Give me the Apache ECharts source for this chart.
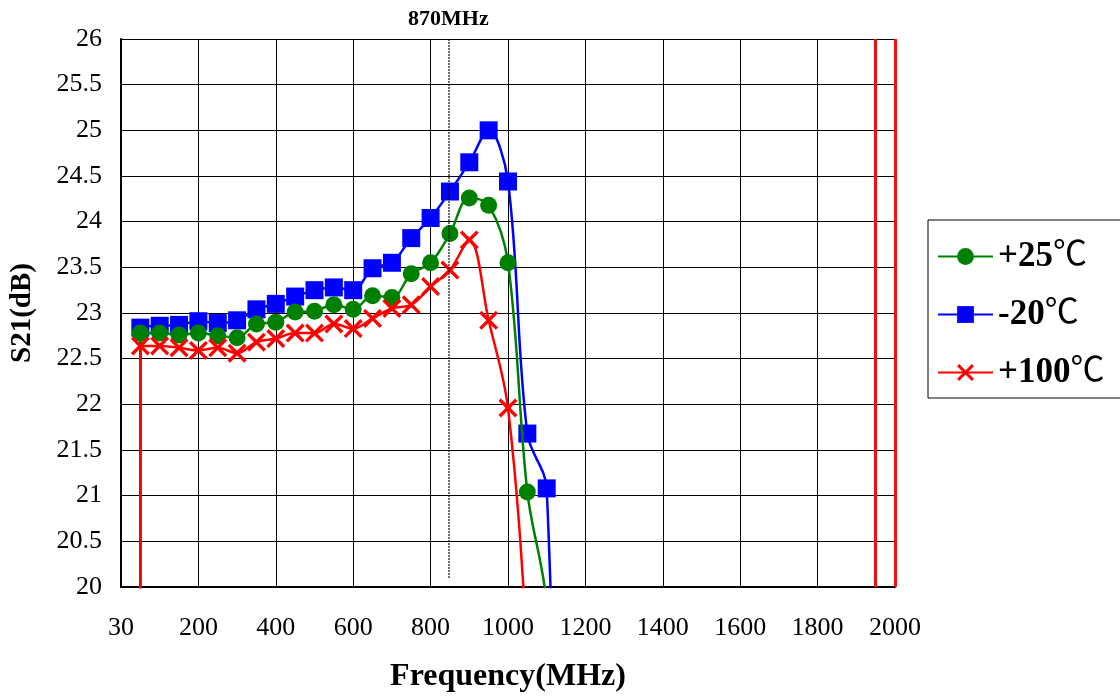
<!DOCTYPE html>
<html>
<head>
<meta charset="utf-8">
<script src="https://cdn.jsdelivr.net/npm/echarts@6/dist/echarts.min.js"></script>
<style>
  html, body { margin: 0; padding: 0; background: #fff; }
  #chart { width: 1120px; height: 698px; }
</style>
</head>
<body>
<div id="chart"></div>
<script>
// measured points, every 50 MHz
const freqs = [50, 100, 150, 200, 250, 300, 350, 400, 450, 500, 550,
               600, 650, 700, 750, 800, 850, 900, 950, 1000, 1050, 1100];
const s21Plus25 = [22.78, 22.78, 22.76, 22.78, 22.75, 22.73, 22.88, 22.90, 23.01, 23.02, 23.09,
                   23.04, 23.19, 23.17, 23.43, 23.55, 23.87, 24.26, 24.18, 23.55, 21.04, null];
const s21Minus20 = [22.84, 22.86, 22.87, 22.91, 22.89, 22.92, 23.04, 23.10, 23.18, 23.25, 23.28,
                    23.25, 23.49, 23.55, 23.82, 24.04, 24.33, 24.65, 25.00, 24.44, 21.68, 21.08];
const s21Plus100 = [22.64, 22.64, 22.62, 22.59, 22.62, 22.56, 22.68, 22.72, 22.78, 22.78, 22.88,
                    22.83, 22.94, 23.05, 23.09, 23.29, 23.47, 23.80, 22.92, 21.96, null, null];

// off-scale roll-off points (below 20 dB, drawn without markers)
const leadPoint = [49, 0];
const tailPlus25 = [[1100, 19.8], [1150, 15]];
const tailMinus20 = [[1150, 12]];
const tailPlus100 = [[1050, 19.3], [1100, 15]];

const xTickLabels = ['30', '200', '400', '600', '800', '1000', '1200', '1400', '1600', '1800', '2000'];
const markerFreq = 846;        // dotted "870MHz" line
const markerLabel = '870MHz';
const bandEdges = [1950, 2000];

const seriesNames = ['+25℃', '-20℃', '+100℃'];

const FONT = '"Liberation Serif", "Times New Roman", "Noto Sans CJK SC", serif';
const crossPath = 'path://M0,2L2,0L8,6L14,0L16,2L10,8L16,14L14,16L8,10L2,16L0,14L6,8Z';

function buildData(values, tail) {
    let out = [{ value: leadPoint, symbol: 'none' }];
    values.forEach((v, i) => {
        if (v !== null) out.push([freqs[i], v]);
    });
    tail.forEach(p => out.push({ value: p, symbol: 'none' }));
    return out;
}

const chart = echarts.init(document.getElementById('chart'));

const option = {
    backgroundColor: '#fff',
    animation: false,
    grid: { left: 121, right: 225, top: 39, bottom: 111 },
    legend: {
        data: seriesNames,
        orient: 'vertical',
        left: 928,
        top: 220,
        padding: [19, 30, 8, 9],
        itemGap: 23,
        itemWidth: 55,
        itemHeight: 21,
        borderColor: '#000',
        borderWidth: 1,
        formatter: name => '{b|' + name.slice(0, -1) + '}{n|℃}',
        textStyle: {
            rich: {
                b: { fontFamily: FONT, fontSize: 35, fontWeight: 'bold', color: '#000' },
                n: { fontFamily: FONT, fontSize: 34, color: '#000' }
            }
        }
    },
    xAxis: {
        type: 'value',
        min: 0,
        max: 2000,
        interval: 200,
        name: 'Frequency(MHz)',
        nameLocation: 'middle',
        nameGap: 74,
        nameTextStyle: { fontFamily: FONT, fontSize: 32, fontWeight: 'bold', color: '#000' },
        axisLine: { lineStyle: { color: '#000', width: 2 } },
        axisTick: { show: false },
        axisLabel: {
            fontFamily: FONT, fontSize: 26, color: '#000', margin: 28,
            formatter: v => xTickLabels[Math.round(v / 200)]
        },
        splitLine: { show: true, lineStyle: { color: '#000', width: 1 } }
    },
    yAxis: {
        type: 'value',
        min: 20,
        max: 26,
        interval: 0.5,
        name: 'S21(dB)',
        nameLocation: 'middle',
        nameGap: 84,
        nameTextStyle: { fontFamily: FONT, fontSize: 29, fontWeight: 'bold', color: '#000' },
        axisLine: { show: true, lineStyle: { color: '#000', width: 2 } },
        axisTick: { show: false },
        axisLabel: { fontFamily: FONT, fontSize: 26, color: '#000', margin: 19 },
        splitLine: { show: true, lineStyle: { color: '#000', width: 1 } }
    },
    series: [
        {
            name: seriesNames[0],
            type: 'line',
            smooth: 0.35,
            symbol: 'circle',
            symbolSize: 17,
            showAllSymbol: true,
            color: '#008000',
            lineStyle: { width: 2.5 },
            data: buildData(s21Plus25, tailPlus25),
            z: 3
        },
        {
            name: seriesNames[1],
            type: 'line',
            smooth: 0.35,
            symbol: 'rect',
            symbolSize: 18,
            showAllSymbol: true,
            color: '#0000ff',
            lineStyle: { width: 2.5 },
            data: buildData(s21Minus20, tailMinus20),
            z: 2
        },
        {
            name: seriesNames[2],
            type: 'line',
            smooth: 0.35,
            symbol: crossPath,
            symbolSize: 19,
            showAllSymbol: true,
            color: '#ff0000',
            lineStyle: { width: 2.5 },
            data: buildData(s21Plus100, tailPlus100),
            z: 4
        },
        {
            name: 'markers',
            type: 'line',
            data: [],
            markLine: {
                silent: true,
                symbol: 'none',
                animation: false,
                data: [
                    [
                        {
                            coord: [markerFreq, 20.1],
                            lineStyle: { color: '#000', type: 'dotted', width: 1.5 },
                            label: {
                                show: true, position: 'end', distance: 9, formatter: markerLabel,
                                fontFamily: FONT, fontSize: 22, fontWeight: 'bold', color: '#000'
                            }
                        },
                        { coord: [markerFreq, 26] }
                    ],
                    ...bandEdges.map(f => ({
                        xAxis: f,
                        lineStyle: { color: '#ee1111', type: 'solid', width: 3 },
                        label: { show: false }
                    }))
                ]
            }
        }
    ]
};

chart.setOption(option);
</script>
</body>
</html>
